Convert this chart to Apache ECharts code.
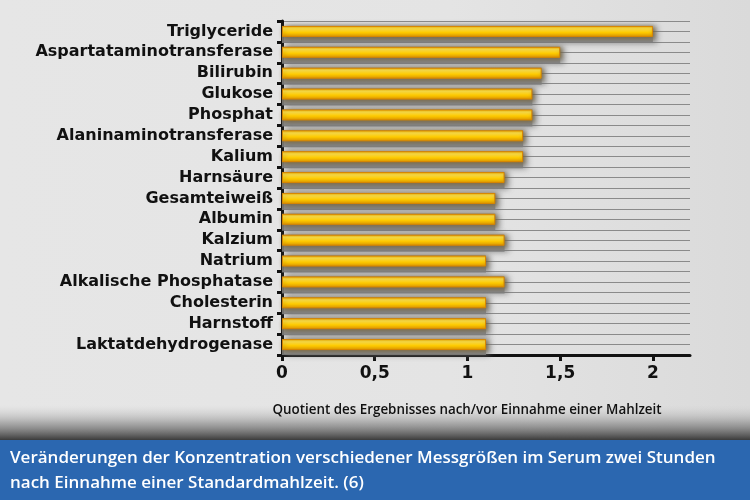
<!DOCTYPE html>
<html><head><meta charset="utf-8">
<script src="https://cdn.jsdelivr.net/npm/echarts@6/dist/echarts.min.js"></script>
<style>html,body{margin:0;padding:0;background:#e3e3e3;}#c{width:750px;height:500px;}</style>
</head><body><div id="c"></div>
<script>
const categories = ["Triglyceride","Aspartataminotransferase","Bilirubin","Glukose","Phosphat","Alaninaminotransferase","Kalium","Harnsäure","Gesamteiweiß","Albumin","Kalzium","Natrium","Alkalische Phosphatase","Cholesterin","Harnstoff","Laktatdehydrogenase"];
const values = [2.0,1.5,1.4,1.35,1.35,1.3,1.3,1.2,1.15,1.15,1.2,1.1,1.2,1.1,1.1,1.1];
const xTicks = [0,0.5,1,1.5,2];
const xAxisTitle = "Quotient des Ergebnisses nach/vor Einnahme einer Mahlzeit";
const captionLines = ["Veränderungen der Konzentration verschiedener Messgrößen im Serum zwei Stunden","nach Einnahme einer Standardmahlzeit. (6)"];

const halfRows = [];
categories.forEach(c => { halfRows.push(c + "_a"); halfRows.push(c + "_b"); });

const chart = echarts.init(document.getElementById('c'), null, {renderer:'canvas'});
chart.setOption({
  backgroundColor: {type:'linear',x:0,y:0,x2:1,y2:0,colorStops:[{offset:0,color:'#e6e6e6'},{offset:0.6,color:'#e4e4e4'},{offset:1,color:'#dadada'}]},
  animation:false,
  grid:{left:282,right:60,top:21,bottom:145,containLabel:false},
  xAxis:{
    type:'value',min:0,max:2.2,
    axisLine:{show:true,lineStyle:{color:'#111',width:3}},
    axisTick:{show:true,length:6,lineStyle:{color:'#111',width:3},customValues:xTicks},
    axisLabel:{customValues:xTicks,color:'#111',fontFamily:'DejaVu Sans',fontWeight:'bold',fontSize:17,margin:10,
      formatter:v=>String(v).replace('.',',')},
    splitLine:{show:false}
  },
  yAxis:[{
    type:'category',data:categories,inverse:true,
    axisLine:{show:true,lineStyle:{color:'#111',width:3}},
    axisTick:{show:true,length:5,lineStyle:{color:'#111',width:3}},
    axisLabel:{color:'#111',fontFamily:'DejaVu Sans',fontWeight:'bold',fontSize:16,margin:9,interval:0},
    splitLine:{show:false}
  },{
    type:'category',data:halfRows,inverse:true,position:'right',
    axisLine:{show:false},axisTick:{show:false},axisLabel:{show:false},
    splitLine:{show:true,interval:0,lineStyle:{color:'#8a8a8a',width:1}}
  }],
  series:[{
    type:'bar',data:values,yAxisIndex:0,barWidth:17,barGap:'-100%',silent:true,
    itemStyle:{
      color:'rgba(128,128,128,0.9)',
      shadowBlur:6,shadowColor:'rgba(110,110,110,0.9)',shadowOffsetX:4,shadowOffsetY:0
    }
  },{
    type:'bar',data:values,yAxisIndex:0,barWidth:11,
    itemStyle:{
      color:{type:'linear',x:0,y:0,x2:0,y2:1,colorStops:[{offset:0,color:'#f2b400'},{offset:0.25,color:'#ffe24a'},{offset:0.6,color:'#ffcc00'},{offset:1,color:'#e39800'}]},
      borderColor:'#d98600',borderWidth:1,
      shadowBlur:4,shadowColor:'rgba(120,90,20,0.6)',shadowOffsetX:1,shadowOffsetY:1
    }
  }],
  graphic:[
    {type:'rect',left:0,top:405,shape:{width:750,height:36},z:0,
      style:{fill:{type:'linear',x:0,y:0,x2:0,y2:1,colorStops:[{offset:0,color:'rgba(200,200,200,0)'},{offset:0.5,color:'rgba(130,130,130,0.6)'},{offset:1,color:'#333'}]}}},
    {type:'rect',left:0,top:440,shape:{width:750,height:60},z:1,style:{fill:'#2b67b0'}},
    {type:'text',left:10,top:450,z:2,style:{text:captionLines[0],fill:'#fff',font:'600 17px "Open Sans"'}},
    {type:'text',left:10,top:475,z:2,style:{text:captionLines[1],fill:'#fff',font:'600 17px "Open Sans"'}},
    {type:'text',x:467,y:410,z:2,style:{text:xAxisTitle,fill:'#111',font:'600 13.4px "Open Sans"',align:'center',verticalAlign:'middle'}}
  ]
});
</script></body></html>
